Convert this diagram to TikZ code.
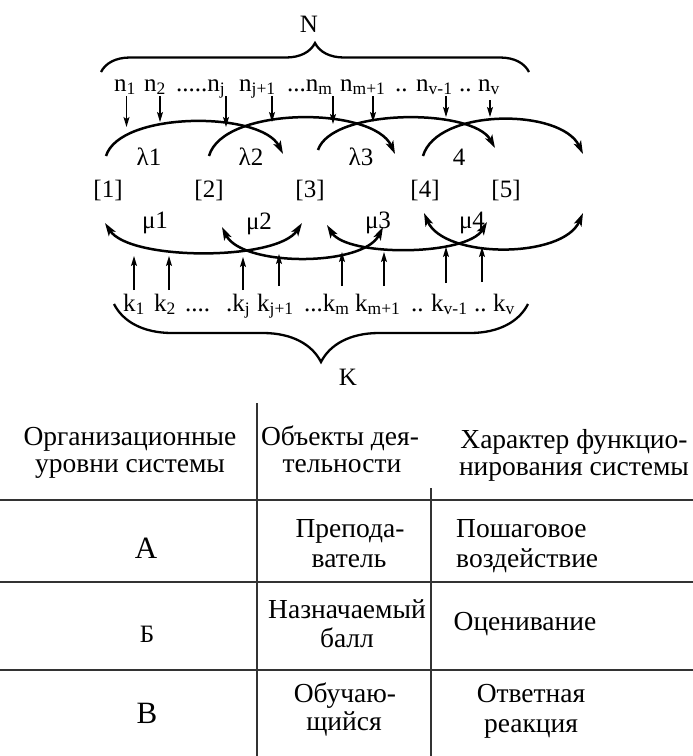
\documentclass[tikz,border=0pt]{standalone}
\usepackage{fontspec}
\setmainfont{Liberation Serif}
\usetikzlibrary{arrows.meta,decorations.pathreplacing}
\newcommand\sbs[1]{\textsubscript{#1}}
\begin{document}
\begin{tikzpicture}[x=1pt,y=-1pt,
  lbl/.style={inner sep=0pt,anchor=base,font=\fontsize{25}{28}\selectfont},
  lblw/.style={lbl,anchor=base west},
  tbl/.style={inner sep=0pt,anchor=base,font=\fontsize{27.5}{30}\selectfont},
  tblw/.style={tbl,anchor=base west},
  thinarr/.style={line width=1.3pt,-{Stealth[length=10pt,width=6pt,inset=2pt]}},
  arcline/.style={line width=2.5pt,-{Stealth[length=13pt,width=8pt,inset=3pt]}},
  dblarc/.style={line width=2.5pt,{Stealth[length=13pt,width=8pt,inset=3pt]}-{Stealth[length=13pt,width=8pt,inset=3pt]}},
  bracestyle/.style={line width=2.3pt,decorate,decoration={brace,amplitude=#1}},
  rulestyle/.style={line width=1.5pt,draw=black!80}
]
\useasboundingbox (0,0) rectangle (693,756);

% ---------- top: N and brace ----------
\node[lbl] (N) at (309,32) {N};
\coordinate (tbL) at (101,72);
\coordinate (tbR) at (529,72);
\draw[bracestyle=29pt] (tbL) -- (tbR);

% n labels
\foreach \nm/\x/\t in {n1/114/{n\sbs{1}}, n2/144/{n\sbs{2}}, nj/176/{.....n\sbs{j}},
  nja/239/{n\sbs{j+1}}, nm/287/{...n\sbs{m}}, nma/340/{n\sbs{m+1}}, nd1/395/{..},
  nv1/416/{n\sbs{v-1}}, nd2/459/{..}, nv/478/{n\sbs{v}}}
  {\node[lblw] (\nm) at (\x,91) {\t};}

% down arrows
\foreach \i/\x/\a/\b in {1/126.5/96/127, 2/160/96/122, 3/226/96/127, 4/272/96/122,
  5/333/96/124, 6/373/96/122, 7/446/96/117, 8/490/100/117}
  {\coordinate (nt\i) at (\x,\a); \coordinate (nb\i) at (\x,\b);
   \draw[thinarr] (nt\i) -- (nb\i);}

% upper arcs
\coordinate (ua1s) at (106,156); \coordinate (ua1e) at (283,154);
\coordinate (ua2s) at (209,156); \coordinate (ua2e) at (395,154);
\coordinate (ua3s) at (318,150); \coordinate (ua3e) at (495,148);
\coordinate (ua4s) at (423,156); \coordinate (ua4e) at (583,154);
\draw[arcline] (ua1s) .. controls +(14,-45) and +(-22,-43) .. (ua1e);
\draw[arcline] (ua2s) .. controls +(14,-50) and +(-22,-48) .. (ua2e);
\draw[arcline] (ua3s) .. controls +(14,-42) and +(-22,-40) .. (ua3e);
\draw[arcline] (ua4s) .. controls +(14,-48) and +(-22,-46) .. (ua4e);

\node[lbl] (l1) at (149,165) {λ1};
\node[lbl] (l2) at (251,165) {λ2};
\node[lbl] (l3) at (361,165) {λ3};
\node[lbl] (l4) at (459,165) {4};

% states
\node[lbl] (s1) at (108,197) {[1]};
\node[lbl] (s2) at (209,197) {[2]};
\node[lbl] (s3) at (310,197) {[3]};
\node[lbl] (s4) at (425,197) {[4]};
\node[lbl] (s5) at (506,197) {[5]};

% lower arcs
\node[lbl] (m1) at (155,228) {μ1};
\node[lbl] (m2) at (259,229) {μ2};
\node[lbl] (m3) at (378,228) {μ3};
\node[lbl] (m4) at (472,228) {μ4};
\coordinate (la1s) at (105,223); \coordinate (la1e) at (302,223);
\coordinate (la2s) at (222,227); \coordinate (la2e) at (383,227);
\coordinate (la3s) at (327,225); \coordinate (la3e) at (487,222);
\coordinate (la4s) at (424,213); \coordinate (la4e) at (583,213);
\draw[dblarc] (la1s) .. controls +(25,38) and +(-25,38) .. (la1e);
\draw[dblarc] (la2s) .. controls +(20,40) and +(-20,40) .. (la2e);
\draw[dblarc] (la3s) .. controls +(20,32) and +(-20,34) .. (la3e);
\draw[dblarc] (la4s) .. controls +(20,46) and +(-20,46) .. (la4e);

% up arrows
\foreach \i/\x/\a/\b in {1/134/290/256, 2/169/290/256, 3/243/290/257, 4/279/286/254,
  5/342/286/252, 6/384/286/252, 7/446/283/247, 8/482/282/247}
  {\coordinate (kb\i) at (\x,\a); \coordinate (kt\i) at (\x,\b);
   \draw[thinarr] (kb\i) -- (kt\i);}

% k labels
\foreach \nm/\x/\t in {k1/123/{k\sbs{1}}, k2/154/{k\sbs{2}}, kd0/185/{....}, kj/226/{.k\sbs{j}},
  kja/257/{k\sbs{j+1}}, km/304/{...k\sbs{m}}, kma/355/{k\sbs{m+1}}, kd1/411/{..},
  kv1/431/{k\sbs{v-1}}, kd2/474/{..}, kv/493/{k\sbs{v}}}
  {\node[lblw] (\nm) at (\x,311) {\t};}

% bottom brace and K
\coordinate (bbR) at (528,304);
\coordinate (bbL) at (114,304);
\draw[bracestyle=58pt] (bbR) -- (bbL);
\node[lbl] (K) at (348,385) {K};

% ---------- table ----------
\coordinate (v1t) at (257,403); \coordinate (v1b) at (257,756);
\coordinate (v2t) at (431,488); \coordinate (v2b) at (431,756);
\coordinate (h1l) at (0,500); \coordinate (h1r) at (693,500);
\coordinate (h2l) at (0,582); \coordinate (h2r) at (693,582);
\coordinate (h3l) at (0,670); \coordinate (h3r) at (693,670);
\draw[rulestyle] (v1t) -- (v1b);
\draw[rulestyle] (v2t) -- (v2b);
\draw[rulestyle] (h1l) -- (h1r);
\draw[rulestyle] (h2l) -- (h2r);
\draw[rulestyle] (h3l) -- (h3r);

\node[tbl] (h1a) at (130,445) {Организационные};
\node[tbl] (h1b) at (130,472) {уровни системы};
\node[tbl] (h2a) at (340,445) {Объекты дея-};
\node[tbl] (h2b) at (342,472) {тельности};
\node[tbl] (h3a) at (574,448) {Характер функцио-};
\node[tbl] (h3b) at (574,475) {нирования системы};

\node[tbl,font=\fontsize{31}{34}\selectfont] (rA) at (146,558) {А};
\node[tbl] (rA2a) at (350,537) {Препода-};
\node[tbl] (rA2b) at (349,567) {ватель};
\node[tblw] (rA3a) at (456,537) {Пошаговое};
\node[tblw] (rA3b) at (456,567) {воздействие};

\node[tbl,font=\fontsize{25}{28}\selectfont] (rB) at (147,642) {Б};
\node[tbl] (rB2a) at (347,618) {Назначаемый};
\node[tbl] (rB2b) at (347,647) {балл};
\node[tbl] (rB3) at (525,630) {Оценивание};

\node[tbl,font=\fontsize{31}{34}\selectfont] (rV) at (147,723) {В};
\node[tbl] (rV2a) at (345,702) {Обучаю-};
\node[tbl] (rV2b) at (344,730) {щийся};
\node[tbl] (rV3a) at (531,702) {Ответная};
\node[tbl] (rV3b) at (531,732) {реакция};
\end{tikzpicture}
\end{document}
